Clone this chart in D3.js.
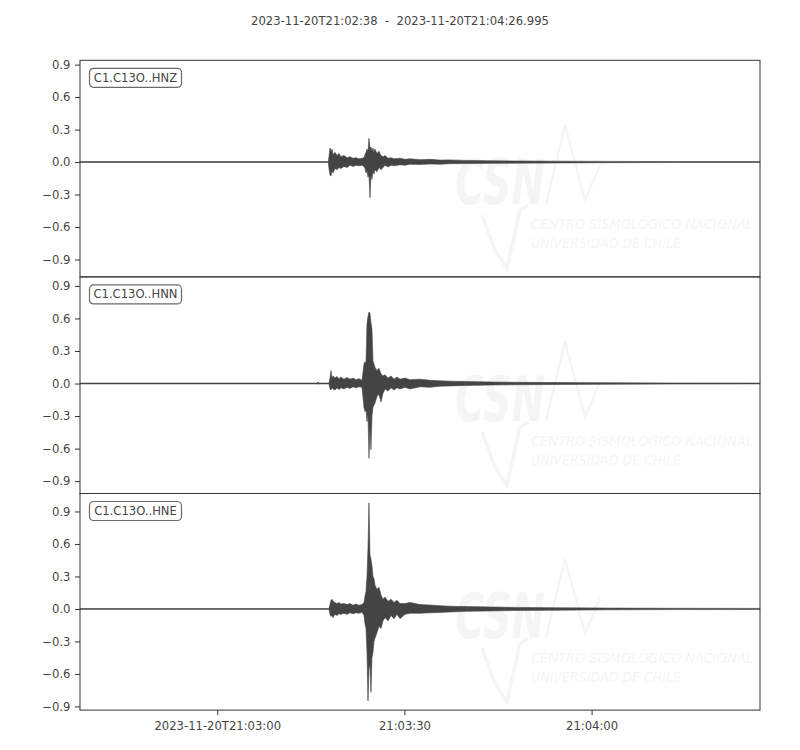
<!DOCTYPE html>
<html>
<head>
<meta charset="utf-8">
<script src="https://cdn.jsdelivr.net/npm/d3@7"></script>
<style>
  body { margin: 0; background: #fff; }
  text { font-family: "DejaVu Sans", sans-serif; }
</style>
</head>
<body>
<div id="chart"></div>
<script>
// ---- data ----
const startLabel = "2023-11-20T21:02:38";
const endLabel = "2023-11-20T21:04:26.995";
const duration = 108.995; // seconds

const traceIds = ["C1.C13O..HNZ", "C1.C13O..HNN", "C1.C13O..HNE"];
const yLow = [-1.061, -1.014, -0.934];
const yHigh = [0.94, 0.983, 1.066];
const yTicks = [-0.9, -0.6, -0.3, 0, 0.3, 0.6, 0.9];
const xTickSeconds = [22, 52, 82];
const xTickLabels = ["2023-11-20T21:03:00", "21:03:30", "21:04:00"];

// envelope per trace: [seconds from start, max, min]
const hnzEnvelope = [
  [0, 0.004, -0.004], [39.8, 0.004, -0.004], [39.91, 0.05, -0.06], [40.07, 0.13, -0.12],
  [40.23, 0.10, -0.13], [40.39, 0.12, -0.08], [40.55, 0.07, -0.10], [40.87, 0.09, -0.06],
  [41.19, 0.06, -0.07], [41.51, 0.08, -0.05], [41.83, 0.05, -0.06], [42.31, 0.06, -0.04],
  [42.80, 0.04, -0.05], [43.28, 0.05, -0.03], [43.76, 0.035, -0.04], [44.24, 0.04, -0.03],
  [44.72, 0.03, -0.035], [45.20, 0.035, -0.03], [45.52, 0.04, -0.04], [45.68, 0.07, -0.06],
  [45.84, 0.09, -0.10], [46.00, 0.12, -0.08], [46.16, 0.10, -0.14], [46.32, 0.22, -0.12],
  [46.48, 0.13, -0.33], [46.64, 0.14, -0.12], [46.80, 0.10, -0.16], [46.96, 0.13, -0.09],
  [47.12, 0.09, -0.11], [47.28, 0.12, -0.07], [47.60, 0.08, -0.09], [47.92, 0.10, -0.05],
  [48.24, 0.06, -0.07], [48.57, 0.05, -0.05], [48.89, 0.06, -0.03], [49.37, 0.035, -0.045],
  [49.85, 0.04, -0.03], [50.33, 0.03, -0.035], [51.29, 0.035, -0.025], [52.09, 0.025, -0.03],
  [52.89, 0.03, -0.02], [54.5, 0.022, -0.022], [56.1, 0.025, -0.018], [57.7, 0.018, -0.02],
  [59.3, 0.02, -0.015], [62, 0.015, -0.014], [66, 0.012, -0.012], [70, 0.01, -0.01],
  [77, 0.008, -0.008], [85, 0.006, -0.006], [95, 0.004, -0.004], [108.995, 0.004, -0.004]
];

const hnnEnvelope = [
  [0, 0.004, -0.004], [38.0, 0.004, -0.004], [38.15, 0.015, -0.006], [38.3, 0.004, -0.004],
  [39.9, 0.004, -0.004], [40.07, 0.05, -0.05], [40.23, 0.12, -0.06], [40.39, 0.05, -0.04],
  [40.55, 0.07, -0.05], [40.87, 0.05, -0.06], [41.19, 0.065, -0.04], [41.51, 0.045, -0.055],
  [41.83, 0.06, -0.04], [42.31, 0.04, -0.05], [42.80, 0.055, -0.035], [43.28, 0.04, -0.045],
  [43.76, 0.05, -0.03], [44.24, 0.035, -0.04], [44.72, 0.045, -0.03], [45.20, 0.03, -0.035],
  [45.52, 0.18, -0.22], [45.68, 0.20, -0.26], [45.84, 0.19, -0.24], [46.00, 0.55, -0.35],
  [46.16, 0.62, -0.28], [46.32, 0.66, -0.69], [46.48, 0.65, -0.40], [46.64, 0.56, -0.61],
  [46.80, 0.50, -0.30], [46.96, 0.21, -0.22], [47.12, 0.18, -0.20], [47.28, 0.15, -0.18],
  [47.60, 0.12, -0.12], [47.92, 0.14, -0.10], [48.24, 0.09, -0.17], [48.57, 0.07, -0.09],
  [48.89, 0.08, -0.05], [49.37, 0.05, -0.07], [49.85, 0.07, -0.04], [50.33, 0.04, -0.06],
  [50.81, 0.06, -0.04], [51.29, 0.04, -0.05], [52.09, 0.05, -0.035], [52.89, 0.035, -0.05],
  [54.5, 0.04, -0.03], [56.1, 0.03, -0.035], [57.7, 0.025, -0.025], [59.3, 0.022, -0.022],
  [62, 0.018, -0.018], [66, 0.014, -0.014], [70, 0.011, -0.011], [77, 0.009, -0.009],
  [85, 0.007, -0.007], [95, 0.005, -0.005], [108.995, 0.004, -0.004]
];

const hneEnvelope = [
  [0, 0.004, -0.004], [39.9, 0.004, -0.004], [40.07, 0.04, -0.05], [40.23, 0.08, -0.07],
  [40.39, 0.09, -0.06], [40.55, 0.07, -0.08], [40.87, 0.06, -0.05], [41.19, 0.05, -0.06],
  [41.51, 0.06, -0.045], [41.83, 0.045, -0.05], [42.31, 0.05, -0.04], [42.80, 0.04, -0.05],
  [43.28, 0.05, -0.035], [43.76, 0.035, -0.045], [44.24, 0.045, -0.035], [44.72, 0.035, -0.04],
  [45.20, 0.04, -0.03], [45.52, 0.06, -0.06], [45.68, 0.12, -0.14], [45.84, 0.16, -0.18],
  [46.00, 0.30, -0.40], [46.16, 0.56, -0.85], [46.32, 0.98, -0.55], [46.48, 0.50, -0.52],
  [46.64, 0.46, -0.77], [46.80, 0.40, -0.45], [46.96, 0.30, -0.40], [47.12, 0.28, -0.30],
  [47.28, 0.22, -0.27], [47.60, 0.18, -0.22], [47.92, 0.20, -0.16], [48.24, 0.13, -0.18],
  [48.57, 0.09, -0.11], [48.89, 0.11, -0.08], [49.37, 0.07, -0.11], [49.85, 0.09, -0.06],
  [50.33, 0.06, -0.09], [50.81, 0.08, -0.05], [51.29, 0.05, -0.09], [52.09, 0.05, -0.05],
  [52.89, 0.06, -0.04], [54.5, 0.04, -0.04], [56.1, 0.036, -0.036], [57.7, 0.03, -0.032],
  [59.3, 0.025, -0.028], [62, 0.022, -0.022], [66, 0.018, -0.018], [70, 0.014, -0.014],
  [77, 0.011, -0.011], [85, 0.008, -0.008], [95, 0.006, -0.006], [108.995, 0.005, -0.005]
];

const envelopes = [hnzEnvelope, hnnEnvelope, hneEnvelope];

// ---- layout ----
const width = 800, height = 750;
const plotLeft = 80, plotRight = 760, plotTop = 60.3, panelH = 216.6;
const ink = "#444";
const faint = "#f5f5f5";

const svg = d3.select("#chart")
  .append("svg")
  .attr("width", width)
  .attr("height", height);

// title
svg.append("text")
  .attr("x", 400)
  .attr("y", 24.5)
  .attr("text-anchor", "middle")
  .attr("font-size", "11.6px")
  .attr("fill", ink)
  .style("white-space", "pre")
  .text(startLabel + "  -  " + endLabel);

const x = d3.scaleLinear().domain([0, duration]).range([plotLeft, plotRight]);

envelopes.forEach((env, i) => {
  const y0 = plotTop + i * panelH;
  const y = d3.scaleLinear().domain([yLow[i], yHigh[i]]).range([y0 + panelH, y0]);
  const g = svg.append("g");

  // faint logo watermark
  const wm = g.append("g").attr("fill", faint).attr("stroke", faint);
  wm.append("text")
    .attr("x", 455).attr("y", y0 + 144)
    .attr("font-size", "62px").attr("font-weight", "bold").attr("font-style", "italic")
    .attr("stroke", "none")
    .attr("textLength", 90).attr("lengthAdjust", "spacingAndGlyphs")
    .text("CSN");
  wm.append("path")
    .attr("fill", "none").attr("stroke-width", 2.5)
    .attr("d", `M546,${y0 + 144}L565,${y0 + 65}L585,${y0 + 140}L600,${y0 + 105}`);
  wm.append("path")
    .attr("fill", "none").attr("stroke-width", 3.5)
    .attr("d", `M482,${y0 + 155}L495,${y0 + 190}L507,${y0 + 208}L520,${y0 + 150}L528,${y0 + 145}`);
  wm.append("text")
    .attr("x", 531).attr("y", y0 + 169)
    .attr("font-family", "'Liberation Sans Narrow', 'DejaVu Sans Condensed', sans-serif")
    .attr("font-size", "14px").attr("font-style", "italic").attr("stroke", "none")
    .attr("textLength", 222).attr("lengthAdjust", "spacingAndGlyphs")
    .text("CENTRO SISMOLÓGICO NACIONAL");
  wm.append("text")
    .attr("x", 531).attr("y", y0 + 188)
    .attr("font-family", "'Liberation Sans Narrow', 'DejaVu Sans Condensed', sans-serif")
    .attr("font-size", "14px").attr("font-style", "italic").attr("stroke", "none")
    .attr("textLength", 150).attr("lengthAdjust", "spacingAndGlyphs")
    .text("UNIVERSIDAD DE CHILE");

  // waveform envelope
  const area = d3.area()
    .x(d => x(d[0]))
    .y0(d => y(d[2]))
    .y1(d => y(d[1]));
  g.append("path")
    .datum(env)
    .attr("d", area)
    .attr("fill", ink)
    .attr("stroke", ink)
    .attr("stroke-width", 0.6)
    .attr("stroke-linejoin", "round");

  // y axis
  const yAxis = g.append("g")
    .attr("transform", `translate(${plotLeft},0)`)
    .call(d3.axisLeft(y).tickValues(yTicks).tickSize(5).tickSizeOuter(0).tickPadding(4.5)
      .tickFormat(d3.format(".1f")));
  yAxis.select(".domain").remove();
  yAxis.selectAll("line").attr("stroke", "#333");
  yAxis.selectAll("text").attr("fill", ink).attr("font-size", "11.6px")
    .attr("font-family", "DejaVu Sans, sans-serif");

  // frame
  g.append("rect")
    .attr("x", plotLeft).attr("y", y0)
    .attr("width", plotRight - plotLeft).attr("height", panelH)
    .attr("fill", "none").attr("stroke", "#333").attr("stroke-width", 1);

  // trace id box
  const lbl = g.append("g").attr("transform", `translate(89.5,${y0 + 8})`);
  lbl.append("rect")
    .attr("width", 92).attr("height", 19).attr("rx", 4)
    .attr("fill", "#fff").attr("stroke", "#6a6a6a").attr("stroke-width", 1.2);
  lbl.append("text")
    .attr("x", 46).attr("y", 13.6)
    .attr("text-anchor", "middle")
    .attr("font-size", "11.6px").attr("fill", ink)
    .text(traceIds[i]);

  // x axis only on the last panel
  if (i === envelopes.length - 1) {
    const xAxis = g.append("g")
      .attr("transform", `translate(0,${y0 + panelH})`)
      .call(d3.axisBottom(x).tickValues(xTickSeconds).tickSize(5).tickSizeOuter(0).tickPadding(7)
        .tickFormat((d, k) => xTickLabels[k]));
    xAxis.select(".domain").remove();
    xAxis.selectAll("line").attr("stroke", "#333");
    xAxis.selectAll("text").attr("fill", ink).attr("font-size", "11.6px")
      .attr("font-family", "DejaVu Sans, sans-serif");
  }
});
</script>
</body>
</html>
